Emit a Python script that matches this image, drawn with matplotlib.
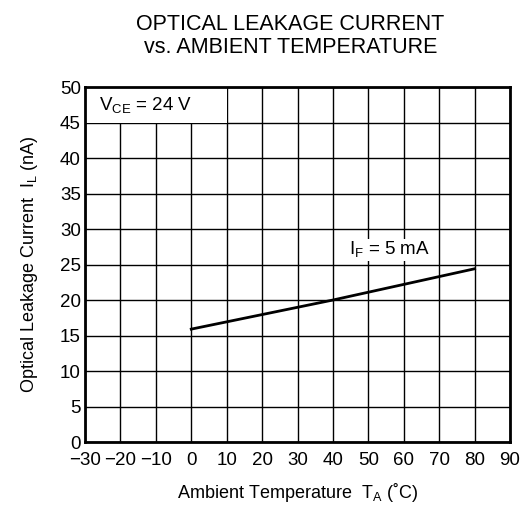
import matplotlib.pyplot as plt
from matplotlib.patches import Rectangle

plt.rcParams['font.family'] = ['Liberation Sans', 'DejaVu Sans']

# data
temp = [0, 40, 80]
leakage = [15.9, 20.0, 24.4]
x_ticks = list(range(-30, 91, 10))
y_ticks = list(range(0, 51, 5))

fig = plt.figure(figsize=(5.26, 5.12), dpi=100)
ax = fig.add_axes([0.1616, 0.1367, 0.8080, 0.6933])

ax.plot(temp, leakage, color='black', lw=2, zorder=3)

ax.set_xlim(-30, 90)
ax.set_ylim(0, 50)
ax.set_xticks(x_ticks)
ax.set_yticks(y_ticks)
ax.set_xticklabels([str(t).replace('-', '\u2212') for t in x_ticks])
ax.tick_params(length=0, labelsize=13.5)
ax.tick_params(axis='x', pad=7)
ax.tick_params(axis='y', pad=3)
ax.grid(True, color='black', lw=1)
ax.set_axisbelow(True)
for s in ax.spines.values():
    s.set_linewidth(2)

# white label box in the top-left cell block
ax.add_patch(Rectangle((-30, 45), 40, 5, facecolor='white', edgecolor='none', zorder=2))
ax.text(-26, 47.4, r'V$_{\mathregular{CE}}$ = 24 V', fontsize=13.5, va='center', zorder=4)
ax.text(44.5, 27.0, r'I$_{\mathregular{F}}$ = 5 mA', fontsize=13.5, va='center', zorder=4,
        bbox=dict(facecolor='white', edgecolor='none', pad=0.5))

ax.set_xlabel(r'Ambient Temperature  T$_{\mathregular{A}}$ (˚C)', fontsize=13, labelpad=9)
ax.set_ylabel(r'Optical Leakage Current  I$_{\mathregular{L}}$ (nA)', fontsize=13, labelpad=14)

fig.text(0.552, 0.93, 'OPTICAL LEAKAGE CURRENT\nvs. AMBIENT TEMPERATURE',
         ha='center', va='center', fontsize=15.5, linespacing=1.15)

fig.savefig('out.png', dpi=100)
